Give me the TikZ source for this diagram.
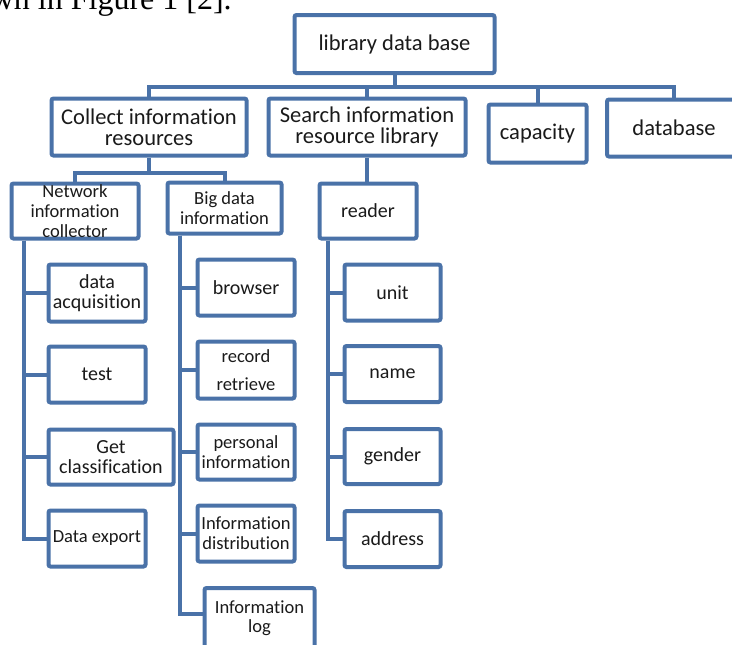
\documentclass[tikz,border=0pt]{standalone}
\usepackage{fontspec}
\setmainfont{Carlito}[Ligatures={NoCommon}]
\newfontfamily\capserif{Liberation Serif}
\usetikzlibrary{calc}
\definecolor{lineblue}{HTML}{4A72A8}
\definecolor{txt}{HTML}{1A1A1A}
\pgfdeclarelayer{bg}
\pgfsetlayers{bg,main}
\begin{document}
\begin{tikzpicture}[x=0.75pt,y=-0.75pt,
  box/.style={draw=lineblue, line width=3pt, fill=white, rounded corners=1.5pt,
    inner sep=0pt, align=center, text=txt},
  sz/.style 2 args={minimum width=#1*0.75pt, minimum height=#2*0.75pt},
  big/.style={font=\fontsize{16.9}{15.5}\selectfont},
  mid/.style={font=\fontsize{15}{15.2}\selectfont},
  small/.style={font=\fontsize{13.9}{15.2}\selectfont},
  conn/.style={draw=lineblue, line width=3pt, line join=miter}]
\useasboundingbox (0,0) rectangle (732,644);
\clip (0,0) rectangle (732,644);

% caption fragment
\node[anchor=base east, inner sep=0pt, text=black,
  font=\capserif\fontsize{24}{28}\selectfont] (cap) at (232,9)
  {wn in Figure 1 [2].};

% level 0 and 1
\node[box,big,sz={200}{58}] (top) at (394.5,44) {library data base};
\node[box,big,sz={195}{57}] (collect) at (149,127) {Collect information\\resources};
\node[box,big,sz={197}{57}] (search) at (367,127) {Search information\\resource library};
\node[box,big,sz={98}{58}] (capacity) at (537.5,133.5) {capacity};
\node[box,big,sz={134}{57}] (database) at (674,128) {database};

% level 2
\node[box,small,sz={127}{55}] (network) at (75,211) {Network\\information\\collector};
\node[box,small,sz={114}{51}] (bigdata) at (224.5,208) {Big data\\information};
\node[box,mid,sz={97}{55}] (reader) at (368,211) {reader};

% network children
\node[box,mid,sz={97}{57}] (dataacq) at (97,293) {data\\acquisition};
\node[box,mid,sz={97}{56}] (test) at (97,374.5) {test};
\node[box,mid,sz={125}{55}] (getclass) at (111,457) {Get\\classification};
\node[box,small,sz={97}{56}] (dataexport) at (97,538.5) {Data export};

% big data children
\node[box,mid,sz={97}{56}] (browser) at (246,287.5) {browser};
\node[box,small,sz={97}{57},font=\fontsize{13.9}{21}\selectfont] (record) at (246,370) {record\\retrieve};
\node[box,small,sz={97}{55}] (personal) at (246,452) {personal\\information};
\node[box,small,sz={97}{56}] (infodist) at (246,533.5) {Information\\distribution};
\node[box,small,sz={110}{60},font=\fontsize{13.9}{14.5}\selectfont] (infolog) at (259.5,618) {Information\\log};

% reader children
\node[box,mid,sz={96}{56}] (unit) at (392.5,292.5) {unit};
\node[box,mid,sz={96}{56}] (name) at (392.5,374) {name};
\node[box,mid,sz={96}{55}] (gender) at (392.5,456.5) {gender};
\node[box,mid,sz={96}{56}] (address) at (392.5,539) {address};

\begin{pgfonlayer}{bg}
  \coordinate (bus1) at (0,87);
  \coordinate (bus2) at (0,173);
  \foreach \c in {collect,search,capacity,database}
    \draw[conn] (top.south) -- (top.south |- bus1) -| (\c.north);
  \foreach \c in {network,bigdata}
    \draw[conn] (collect.south) -- (collect.south |- bus2) -| (\c.north);
  \draw[conn] (search.south) -- (search.south |- reader.north);

  \coordinate (nt) at ($(network.south west)+(14,0)$);
  \foreach \c in {dataacq,test,getclass,dataexport}
    \draw[conn] (nt) |- (\c.west);

  \coordinate (bt) at ($(bigdata.south west)+(14,0)$);
  \foreach \c in {browser,record,personal,infodist}
    \draw[conn] (bt) |- (\c.west);
  \draw[conn] (bt) |- ([yshift=3pt]infolog.west);

  \coordinate (rt) at ($(reader.south west)+(10,0)$);
  \foreach \c in {unit,name,gender,address}
    \draw[conn] (rt) |- (\c.west);
\end{pgfonlayer}
\end{tikzpicture}
\end{document}
